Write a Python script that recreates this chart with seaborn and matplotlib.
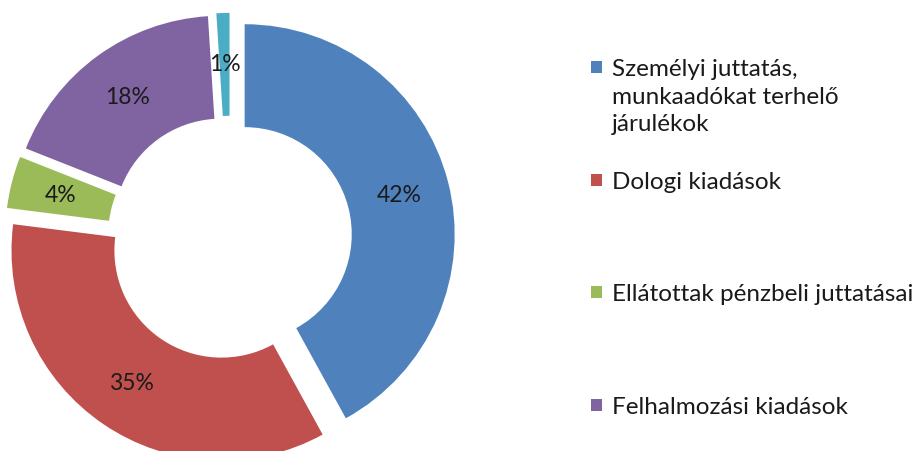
import matplotlib
matplotlib.use("Agg")
import matplotlib.pyplot as plt
import seaborn as sns
from matplotlib.patches import Rectangle

# Chart data (clockwise from 12 o'clock)
categories = [
    "Személyi juttatás,\nmunkaadókat terhelő\njárulékok",
    "Dologi kiadások",
    "Ellátottak pénzbeli juttatásai",
    "Felhalmozási kiadások",
    "Egyéb",
]
shares = [42, 35, 4, 18, 1]
colors = ["#4F81BD", "#C0504D", "#9BBB59", "#8064A2", "#4BACC6"]
# only the first four entries fit in the visible legend
legend_count = 4

sns.set_theme(style="white")
plt.rcParams["font.family"] = ["Lato", "DejaVu Sans"]

W, H = 924, 452
fig = plt.figure(figsize=(W / 100, H / 100), dpi=100)
fig.patch.set_facecolor("white")

# pie axes: centre at (230, 239) px, radius 210 px
cx, cy, R = 230, 239, 210
ax = fig.add_axes([0, 0, 470 / W, 1])
wedges, texts, autotexts = ax.pie(
    shares,
    colors=colors,
    startangle=90,
    counterclock=False,
    explode=[0.072] * len(shares),
    radius=1.0,
    pctdistance=0.76,
    autopct="%1.0f%%",
    wedgeprops=dict(width=0.49, edgecolor="none"),
    textprops=dict(fontsize=16.5, color="#1a1a1a"),
)
ax.set_xlim(-cx / R, (470 - cx) / R)
ax.set_ylim(-(H - cy) / R, cy / R)
ax.set_aspect("auto")
ax.axis("off")

# legend drawn by hand, Excel style (marker aligned with first line)
x_mark, x_text = 591, 612
first_center, step, line_h = 68, 112.7, 27.5
for i in range(legend_count):
    yc = first_center + i * step
    fig.patches.append(Rectangle((x_mark / W, 1 - (yc + 6) / H), 11 / W, 12 / H,
                                 transform=fig.transFigure, facecolor=colors[i],
                                 edgecolor="none"))
    for k, line in enumerate(categories[i].split("\n")):
        yb = yc + 8 + k * line_h
        fig.text(x_text / W, 1 - yb / H, line, fontsize=17.5, color="#1a1a1a",
                 va="baseline", ha="left")

fig.savefig("out.png", dpi=100, facecolor="white")
